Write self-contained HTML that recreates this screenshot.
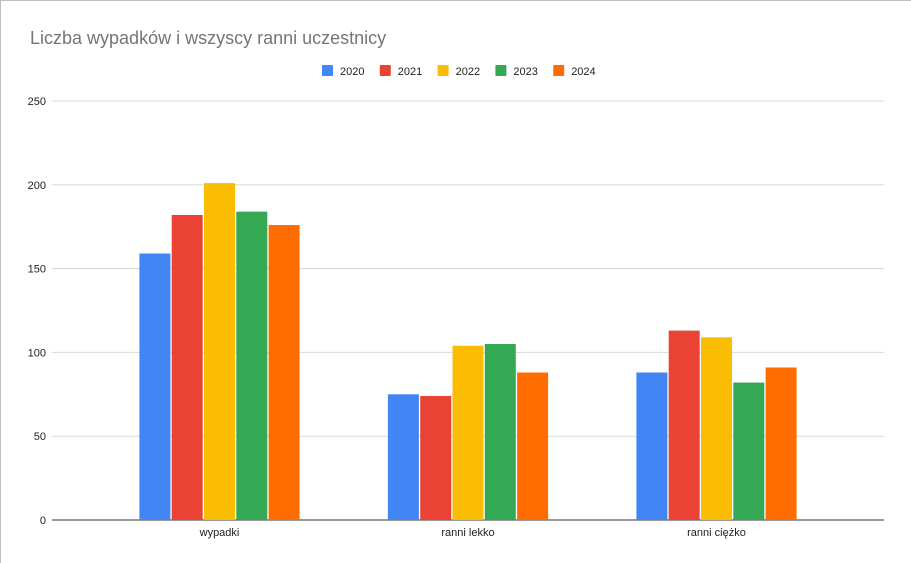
<!DOCTYPE html>
<html><head><meta charset="utf-8">
<style>
body{margin:0;background:#fff;}
#wrap{position:relative;width:911px;height:563px;overflow:hidden;font-family:"Liberation Sans",Arial,sans-serif;}
svg text{font-family:"Liberation Sans",Arial,sans-serif;}
</style></head>
<body>
<div id="wrap">
<svg id="chart" width="911" height="563">
<rect x="0.5" y="0.5" width="920" height="580" fill="#fff" stroke="#c0c0c0"/>
<text x="30" y="44" font-size="18" fill="#757575">Liczba wypadków i wszyscy ranni uczestnicy</text>
</svg>
</div>
<script>
const categories=["wypadki","ranni lekko","ranni ciężko"];
const seriesNames=["2020","2021","2022","2023","2024"];
const s2020=[159,75,88];
const s2021=[182,74,113];
const s2022=[201,104,109];
const s2023=[184,105,82];
const s2024=[176,88,91];
const yTicks=[0,50,100,150,200,250];
const colors=["#4285f4","#ea4335","#fbbc04","#34a853","#ff6d01"];
const series=[s2020,s2021,s2022,s2023,s2024];
const svg=document.getElementById('chart');
const NS='http://www.w3.org/2000/svg';
const x0=52,x1=884,y0=520,y1=101,yMax=250;
const y=v=>y0-(v/yMax)*(y0-y1);
const step=248.5;
const mid=(x0+x1)/2;
const xc=i=>mid+(i-(categories.length-1)/2)*step;
function mk(t,a){const e=document.createElementNS(NS,t);for(const k in a)e.setAttribute(k,a[k]);svg.appendChild(e);return e;}
yTicks.forEach(t=>{
 const l=mk('line',{x1:x0,x2:x1,y1:y(t),y2:y(t),stroke:t===0?'#333':'#d9d9d9','stroke-width':1});
 
 
 const tx=mk('text',{x:46,y:y(t)+4,'font-size':11,'text-anchor':'end',fill:'#222'});
 tx.textContent=t;
 
 
});
const bw=31,gap=1.3;
series.forEach((s,j)=>{
 s.forEach((v,i)=>{
  const bx=xc(i)-(5*bw+4*gap)/2+j*(bw+gap);
  const r=mk('rect',{x:bx,y:y(v),width:bw,height:y0-y(v),fill:colors[j]});
  
  
 });
});
categories.forEach((c,i)=>{
 const t=mk('text',{x:xc(i),y:536,'font-size':11,'text-anchor':'middle',fill:'#222'});
 t.textContent=c;
 
 
});
seriesNames.forEach((n,j)=>{
 const lx=322+j*57.8;
 const r=mk('rect',{x:lx,y:65,width:11,height:11,fill:colors[j],rx:1});
 
 
 const t=mk('text',{x:lx+18,y:75,'font-size':11,fill:'#222'});
 t.textContent=n;
 
 
});
</script>
</body></html>
